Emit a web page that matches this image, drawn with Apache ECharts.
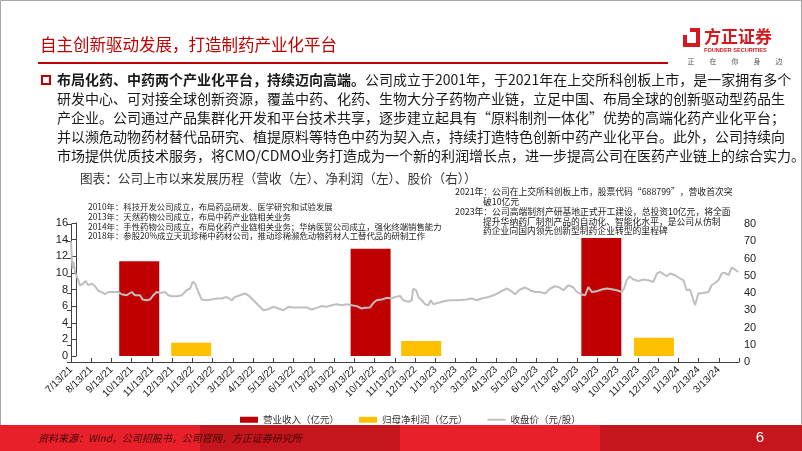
<!DOCTYPE html>
<html><head><meta charset="utf-8">
<script src="https://cdn.jsdelivr.net/npm/echarts@6/dist/echarts.min.js"></script>
<style>html,body{margin:0;padding:0;background:#fff}#c{width:802px;height:451px}</style>
</head><body><div id="c"></div>
<script>
// ---- data ----
const xLabels = ['7/13/21','8/13/21','9/13/21','10/13/21','11/13/21','12/13/21','1/13/22','2/13/22','3/13/22','4/13/22','5/13/22','6/13/22','7/13/22','8/13/22','9/13/22','10/13/22','11/13/22','12/13/22','1/13/23','2/13/23','3/13/23','4/13/23','5/13/23','6/13/23','7/13/23','8/13/23','9/13/23','10/13/23','11/13/23','12/13/23','1/13/24','2/13/24','3/13/24'];
const leftTicks = [0,2,4,6,8,10,12,14,16];
const rightTicks = [0,10,20,30,40,50,60,70,80];
// bar positions in months after 7/13/21
const revenueMonths = [3.37, 14.8, 26.2];
const revenue = [11.4, 12.9, 14.2];          // 营业收入（亿元）
const profitMonths = [5.94, 17.3, 28.8];
const profit = [1.6, 1.8, 2.2];              // 归母净利润（亿元）
// closing price: month offset and price (元/股)
const priceMonths = [0,0.04,0.08,0.12,0.2,0.28,0.36,0.44,0.61,0.72,0.86,1.02,1.19,1.35,1.51,1.68,1.84,2.09,2.34,2.5,2.75,3.0,3.16,3.41,3.54,3.74,3.9,4.07,4.23,4.4,4.64,4.81,4.97,5.22,5.47,5.71,5.88,6.01,6.13,6.29,6.46,6.7,6.95,7.2,7.44,7.69,7.94,8.1,8.35,8.6,8.76,9.01,9.26,9.5,9.75,10.0,10.24,10.49,10.74,10.98,11.31,11.64,11.89,12.14,12.38,12.63,12.88,13.13,13.37,13.62,13.87,14.11,14.36,14.53,14.77,14.94,15.1,15.35,15.6,15.84,16.01,16.26,16.42,16.67,16.83,16.91,17.05,17.16,17.33,17.49,17.65,17.77,17.9,18.15,18.4,18.73,19.14,19.55,19.8,20.04,20.29,20.62,20.87,21.11,21.36,21.53,21.69,21.94,22.18,22.43,22.68,22.93,23.17,23.42,23.67,23.91,24.08,24.33,24.57,24.82,24.98,25.23,25.4,25.56,25.73,25.97,26.22,26.47,26.71,26.96,27.21,27.32,27.45,27.59,27.78,28.03,28.28,28.52,28.77,28.94,29.1,29.27,29.43,29.6,29.84,30.09,30.25,30.42,30.58,30.75,30.83,30.99,31.24,31.49,31.65,31.82,31.98,32.15,32.31,32.48,32.64,32.81,32.97];
const priceValues = [70,60,54,58,52,51,47.4,44.5,45.5,47,44.5,45.5,43.9,41.2,40.6,39.3,40.6,40.6,40.6,39.3,38.7,40.6,38.7,38.7,36.2,35.8,36.2,38.7,40.6,40,40.6,38.7,38.1,38.1,38.7,41.6,42.6,46.4,45.5,40.6,36.2,35.8,36.2,36.8,36.8,37.7,35.8,37.7,38.7,39.7,38.7,35.8,32.9,30,30.6,32,31,30,32,31.6,31.6,31.6,30.4,31.4,32.4,32,32.9,33.5,32.9,33.5,32.9,32.4,31,31.4,31.6,34.3,35.8,36.2,37.2,36.8,37.7,38.3,35.8,34.9,35.8,42.6,41.6,37.7,35.8,33.5,32.9,35.8,33.5,34.3,35.2,35.8,35.8,36.2,36.8,35.8,36.8,37.7,38.7,40,41.6,42.6,41.6,39.3,42,43.2,41.6,40.6,40.6,39.7,42.6,43.9,43.5,41.6,44.5,43.2,40.6,39.1,38.7,43.5,40.6,41,42,42.6,42.2,41.6,40.6,42.6,47.4,49.7,47.8,47,47.8,47.4,46.4,51.3,52.2,50.9,49.7,51.3,50.3,48.4,47.4,41.6,42,35.8,32.9,39.7,40,40.6,44.5,45.8,47.4,51.3,51.7,50.3,54.7,53.5,52.2];

const paraLines = [
  '研发中心、可对接全球创新资源，覆盖中药、化药、生物大分子药物产业链，立足中国、布局全球的创新驱动型药品生',
  '产企业。公司通过产品集群化开发和平台技术共享，逐步建立起具有“原料制剂一体化”优势的高端化药产业化平台；',
  '并以濒危动物药材替代品研究、植提原料等特色中药为契入点，持续打造特色创新中药产业化平台。此外，公司持续向',
  '市场提供优质技术服务，将CMO/CDMO业务打造成为一个新的利润增长点，进一步提高公司在医药产业链上的综合实力。'
];
const leftNotes = [
  '2010年：科技开发公司成立，布局药品研发、医学研究和试验发展',
  '2013年：天然药物公司成立，布局中药产业链相关业务',
  '2014年：手性药物公司成立，布局化药产业链相关业务；华纳医贸公司成立，强化终端销售能力',
  '2018年：参股20%成立天玑珍稀中药材公司，推动珍稀濒危动物药材人工替代品的研制工作'
];
const rightNotes = [
  ['2021年：公司在上交所科创板上市，股票代码“688799”，营收首次突', 0],
  ['破10亿元', 1],
  ['2023年：公司高端制剂产研基地正式开工建设，总投资10亿元，将全面', 0],
  ['提升华纳药厂制剂产品的自动化、智能化水平，是公司从仿制', 1],
  ['药企业向国内领先创新型制药企业转型的里程碑', 1]
];
const sloganChars = ['正','在','你','身','边'];

const CJK = '"Noto Sans CJK SC", sans-serif';
const LAT = '"Liberation Sans", Arial, sans-serif';

const chart = echarts.init(document.getElementById('c'), null, {renderer: 'canvas'});

const graphics = [];
// frame
graphics.push({type:'rect', z:-10, shape:{x:0.5,y:0.5,width:801,height:450}, style:{fill:'#fff', stroke:'#a6a6a6', lineWidth:1}, silent:true});
// footer band
[['#e8202a',0],['#c4161c',200],['#e8202a',400],['#c4161c',600]].forEach(([c,x])=>{
  graphics.push({type:'rect', shape:{x:x,y:425,width:(x===600?202:200),height:26}, style:{fill:c}, silent:true});
});
graphics.push({type:'text', style:{text:'资料来源：Wind，公司招股书，公司官网，方正证券研究所', x:38, y:438, fill:'#3a0606', fontSize:10, fontStyle:'italic', fontFamily:CJK, verticalAlign:'middle'}});
graphics.push({type:'text', style:{text:'6', x:760, y:438, fill:'#ffffff', fontSize:15, fontFamily:LAT, align:'center', verticalAlign:'middle'}});
// title
graphics.push({type:'text', style:{text:'自主创新驱动发展，打造制药产业化平台', x:40, y:45, fill:'#c00000', fontSize:16.5, fontFamily:CJK, verticalAlign:'middle'}});
graphics.push({type:'rect', shape:{x:38,y:62,width:630,height:2}, style:{fill:'#c00000'}, silent:true});
// logo
graphics.push({type:'polyline', shape:{points:[[690,30],[698,30],[698,45],[685,45],[685,35]]}, style:{stroke:'#d7191f', lineWidth:4, fill:'none'}});
graphics.push({type:'text', style:{text:'方正证券', x:704, y:37, fill:'#d7191f', fontSize:17, fontWeight:'bold', fontFamily:CJK, verticalAlign:'middle'}});
graphics.push({type:'text', style:{text:'FOUNDER SECURITIES', x:704, y:50, fill:'#d7191f', fontSize:5.6, fontWeight:'bold', fontFamily:LAT, verticalAlign:'middle'}});
sloganChars.forEach((ch,i)=>{
  graphics.push({type:'text', style:{text:ch, x:691+i*22, y:61, fill:'#555', fontSize:7, fontFamily:CJK, align:'center', verticalAlign:'middle'}});
});
// bullet and paragraph
graphics.push({type:'rect', shape:{x:42,y:76,width:8,height:8}, style:{fill:'none', stroke:'#c00000', lineWidth:2}});
graphics.push({type:'text', style:{text:'{b|布局化药、中药两个产业化平台，持续迈向高端。}{n|公司成立于2001年，于2021年在上交所科创板上市，是一家拥有多个}', x:57, y:80, verticalAlign:'middle',
  rich:{b:{fontSize:14, fontWeight:'bold', fontFamily:CJK, fill:'#1a1a1a'}, n:{fontSize:14, fontFamily:CJK, fill:'#1a1a1a'}}}});
paraLines.forEach((t,i)=>{
  graphics.push({type:'text', style:{text:t, x:57, y:99+i*19, fill:'#1a1a1a', fontSize:14, fontFamily:CJK, verticalAlign:'middle'}});
});
// chart title
graphics.push({type:'text', style:{text:'图表：公司上市以来发展历程（营收（左）、净利润（左）、股价（右））', x:80, y:178, fill:'#333', fontSize:12.6, fontFamily:CJK, verticalAlign:'middle'}});
// annotations
leftNotes.forEach((t,i)=>{
  graphics.push({type:'text', z:20, style:{text:t, x:88, y:207+i*9.7, fill:'#222', fontSize:8.4, fontFamily:CJK, verticalAlign:'middle'}});
});
const rY = [192,202,212,221.5,231];
rightNotes.forEach(([t,ind],i)=>{
  graphics.push({type:'text', z:20, style:{text:t, x:ind?483:455, y:rY[i], fill:'#222', fontSize:8.8, fontFamily:CJK, verticalAlign:'middle'}});
});

const axisCol = '#404040';
const option = {
  animation: false,
  backgroundColor: '#fff',
  graphic: graphics,
  grid: [
    {left:71, right:63, top:223, bottom:95},
    {left:71, right:63, top:224, bottom:89}
  ],
  legend: {
    left: 235, top: 410, itemWidth: 18, itemHeight: 6, itemGap: 20,
    textStyle: {fontSize: 9.5, fontFamily: CJK, color: '#333'},
    data: [
      {name:'营业收入（亿元）', icon:'rect'},
      {name:'归母净利润（亿元）', icon:'rect'},
      {name:'收盘价（元/股）', icon:'path://M0,0 L18,0 L18,2 L0,2 Z'}
    ]
  },
  xAxis: [
    {gridIndex:0, type:'value', min:0, max:33, show:false},
    {gridIndex:1, type:'value', min:0, max:33, interval:1,
     axisLine:{lineStyle:{color:axisCol}}, axisTick:{inside:true, length:4, lineStyle:{color:axisCol}},
     splitLine:{show:false},
     axisLabel:{rotate:45, fontSize:10, fontFamily:LAT, color:'#222', margin:6, formatter: v => xLabels[v] !== undefined ? xLabels[v] : ''}}
  ],
  yAxis: [
    {gridIndex:0, type:'value', min:leftTicks[0], max:leftTicks[leftTicks.length-1], interval:leftTicks[1]-leftTicks[0], offset:-5,
     axisLine:{show:true, lineStyle:{color:axisCol}}, axisTick:{show:true, length:4, lineStyle:{color:axisCol}},
     splitLine:{show:false}, axisLabel:{fontSize:11, fontFamily:LAT, color:'#222', margin:8}},
    {gridIndex:1, type:'value', position:'right', min:rightTicks[0], max:rightTicks[rightTicks.length-1], interval:rightTicks[1]-rightTicks[0],
     axisLine:{show:true, lineStyle:{color:axisCol}}, axisTick:{show:true, inside:true, length:4, lineStyle:{color:axisCol}},
     splitLine:{show:false}, axisLabel:{fontSize:11, fontFamily:LAT, color:'#222', margin:5}}
  ],
  series: [
    {name:'营业收入（亿元）', type:'bar', xAxisIndex:0, yAxisIndex:0, barWidth:40, barGap:'-100%', z:2,
     itemStyle:{color:'#c00000'}, data: revenueMonths.map((m,i)=>[m, revenue[i]])},
    {name:'归母净利润（亿元）', type:'bar', xAxisIndex:0, yAxisIndex:0, barWidth:40, barGap:'-100%', z:2,
     itemStyle:{color:'#ffc000'}, data: profitMonths.map((m,i)=>[m, profit[i]])},
    {name:'收盘价（元/股）', type:'line', xAxisIndex:1, yAxisIndex:1, symbol:'none', showSymbol:false, z:3,
     lineStyle:{color:'#bfbfbf', width:2}, itemStyle:{color:'#bfbfbf'},
     data: priceMonths.map((m,i)=>[m, priceValues[i]])}
  ]
};
chart.setOption(option);
</script></body></html>
